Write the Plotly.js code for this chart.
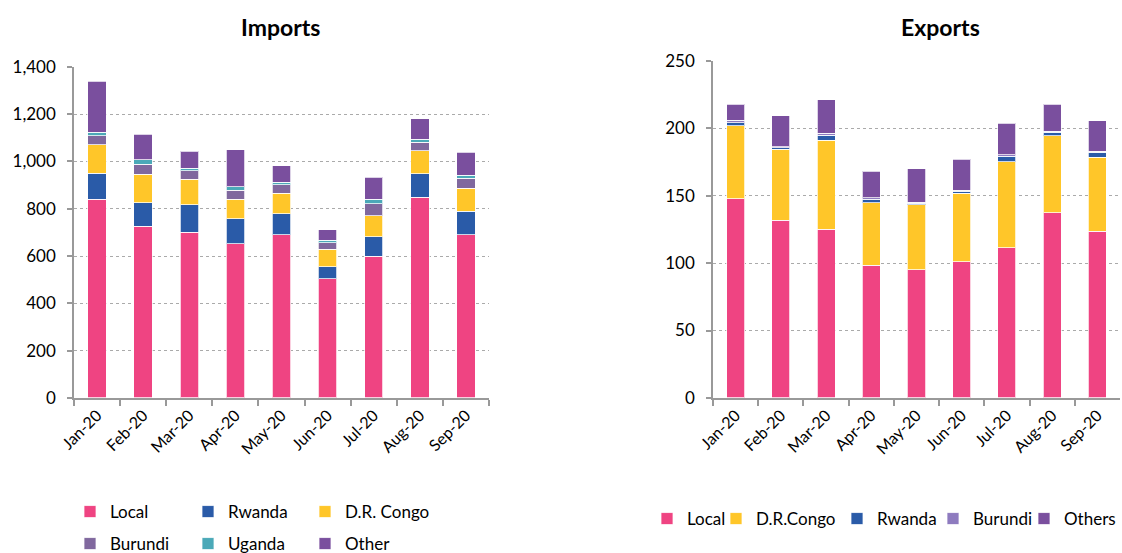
<!DOCTYPE html>
<html><head><meta charset="utf-8">
<script src="https://cdn.plot.ly/plotly-3.0.1.min.js"></script>
<style>html,body{margin:0;padding:0;background:#fff}#chart{width:1122px;height:553px}</style>
</head><body><div id="chart"></div>
<script>
const months = ['Jan-20','Feb-20','Mar-20','Apr-20','May-20','Jun-20','Jul-20','Aug-20','Sep-20'];

const impLocal   = [839, 726, 701, 651, 689, 505, 599, 849, 689];
const impRwanda  = [111,  99, 115, 107,  89,  49,  82,  98, 101];
const impDRC     = [120, 120, 109,  82,  88,  75,  90,  98,  97];
const impBurundi = [ 38,  42,  35,  37,  35,  28,  50,  35,  42];
const impUganda  = [ 14,  20,  11,  15,  11,  10,  18,  13,  13];
const impOther   = [216, 107,  72, 158,  69,  44,  93,  88,  96];

const expLocal   = [147.6, 131.8, 124.9, 98.4, 95.2, 100.9, 111.3, 137.2, 123.6];
const expDRC     = [ 54.2,  52.7,  66.0, 46.3, 48.2,  50.7,  63.8,  57.2,  54.7];
const expRwanda  = [  2.2,   1.0,   4.0,  2.7,  1.0,   1.5,   4.2,   2.7,   3.7];
const expBurundi = [  1.7,   0.9,   1.2,  1.0,  0.8,   0.7,   1.0,   0.7,   1.0];
const expOthers  = [ 11.9,  22.8,  25.0, 19.8, 24.9,  23.2,  23.5,  19.8,  22.5];

const C = {local:'#EF4482', rwanda:'#2A5BA8', drc:'#FFC629', burundi:'#80689E',
           uganda:'#4BA9B8', other:'#7A4F9E', burundiE:'#8E7BBF'};
const FONT = 'Lato, "Open Sans", sans-serif';
const W = 1122, H = 553;

// legend item placement: [legend box left px, centre y px]
const legendSpots = [
  [70, 512], [188, 512], [305, 512],
  [70, 544], [188, 544], [305, 544],
  [647, 519], [716, 519], [837, 519], [933, 519], [1024, 519]
];

function bar(name, y, color, xa, ya, idx){
  return {type:'bar', name:name, x:months, y:y, xaxis:xa, yaxis:ya,
    legend: idx === 0 ? 'legend' : 'legend' + (idx + 1),
    marker:{color:color, line:{color:'rgba(255,255,255,0.75)', width:1}},
    hoverinfo:'x+y+name'};
}

const data = [
  bar('Local', impLocal, C.local, 'x', 'y', 0),
  bar('Rwanda', impRwanda, C.rwanda, 'x', 'y', 1),
  bar('D.R. Congo', impDRC, C.drc, 'x', 'y', 2),
  bar('Burundi', impBurundi, C.burundi, 'x', 'y', 3),
  bar('Uganda', impUganda, C.uganda, 'x', 'y', 4),
  bar('Other', impOther, C.other, 'x', 'y', 5),
  bar('Local', expLocal, C.local, 'x2', 'y2', 6),
  bar('D.R.Congo', expDRC, C.drc, 'x2', 'y2', 7),
  bar('Rwanda', expRwanda, C.rwanda, 'x2', 'y2', 8),
  bar('Burundi', expBurundi, C.burundiE, 'x2', 'y2', 9),
  bar('Others', expOthers, C.other, 'x2', 'y2', 10)
];

const xAx = (l, r) => ({domain:[l/W, r/W], showline:true, linecolor:'#999', linewidth:1.5,
  ticks:'outside', tickson:'boundaries', ticklen:6, tickcolor:'#999', tickwidth:1.5,
  tickangle:-45, tickfont:{size:16, color:'#000', family:FONT}, showgrid:false, fixedrange:true});
const yAx = (top, rng, dt) => ({domain:[1-398/H, 1-top/H], range:rng, dtick:dt, tickformat:',d',
  showline:true, linecolor:'#999', linewidth:1.5, ticks:'outside', ticklen:5, tickcolor:'#999',
  tickwidth:1.5, gridcolor:'#aaa', griddash:'dot', gridwidth:1, zeroline:false,
  ticklabelstandoff:8,
  tickfont:{size:17, color:'#000', family:FONT}, fixedrange:true});

const layout = {
  width:W, height:H, paper_bgcolor:'#fff', plot_bgcolor:'#fff',
  margin:{l:0, r:0, t:0, b:0, autoexpand:false},
  barmode:'stack', bargap:0.6,
  font:{family:FONT, color:'#000'},
  xaxis:Object.assign(xAx(74, 489), {anchor:'y'}),
  yaxis:Object.assign(yAx(66.7, [0,1400], 200), {anchor:'x'}),
  xaxis2:Object.assign(xAx(713, 1120), {anchor:'y2'}),
  yaxis2:Object.assign(yAx(60.7, [0,250], 50), {anchor:'x2'}),
  showlegend:true,
  annotations:[
    {text:'<b>Imports</b>', xref:'paper', yref:'paper', x:280/W, y:1-27/H, xanchor:'center', yanchor:'middle',
     showarrow:false, font:{size:23, color:'#000', family:FONT}},
    {text:'<b>Exports</b>', xref:'paper', yref:'paper', x:940/W, y:1-27/H, xanchor:'center', yanchor:'middle',
     showarrow:false, font:{size:23, color:'#000', family:FONT}}
  ]
};

legendSpots.forEach(function(p, i){
  layout[i === 0 ? 'legend' : 'legend' + (i + 1)] = {
    orientation:'h', xref:'paper', yref:'paper', xanchor:'left', yanchor:'middle',
    x:p[0]/W, y:1 - p[1]/H, itemwidth:30,
    font:{size:17, color:'#000', family:FONT}, bgcolor:'rgba(0,0,0,0)'
  };
});

Plotly.newPlot('chart', data, layout, {displayModeBar:false});
</script>
</body></html>
